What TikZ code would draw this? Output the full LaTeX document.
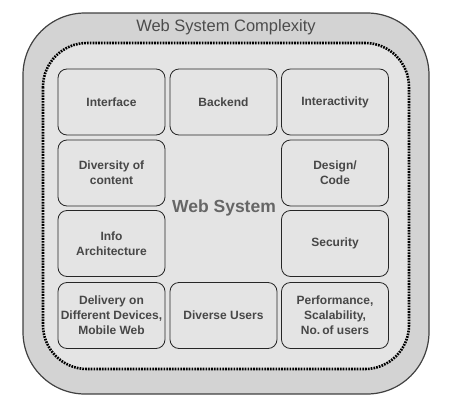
\documentclass[tikz,border=0pt]{standalone}
\usepackage{fontspec}
\setmainfont{Liberation Sans}
\usepackage{tikz}

\definecolor{outergray}{HTML}{D3D3D3}
\definecolor{innergray}{HTML}{E4E4E4}
\definecolor{textgray}{HTML}{474747}

\tikzset{
  part/.style={draw=black!85, line width=0.8pt, rounded corners=9pt,
    minimum width=107pt, minimum height=66pt, inner sep=1pt,
    align=center, text=textgray, font=\fontsize{12}{15}\selectfont\bfseries},
}

\begin{document}
\begin{tikzpicture}[x=1pt, y=-1pt]
  \useasboundingbox (0,0) rectangle (458,407);
  \draw[draw=black!75, line width=1.2pt, fill=outergray, rounded corners=62pt] (23,13) rectangle (429,394);
  \node[text=black!70, font=\fontsize{16.5}{19}\selectfont] (title) at (226,27) {Web System Complexity};
  \draw[black, line width=2.6pt, dash pattern=on 1.7pt off 1.1pt, fill=innergray, rounded corners=44pt] (43,43) rectangle (409,369);
  \node[text=black!60, font=\fontsize{17.5}{20}\selectfont\bfseries] (core) at (224,208) {Web System};
  % first row
  \node[part] (interface) at (111.5,102) {Interface};
  \node[part] (backend) at (223.5,102) {Backend};
  \node[part] (interact) at (335,102) {Interactivity};
  % sides
  \node[part] (diversity) at (111.5,173) {Diversity of\\content};
  \node[part] (design) at (335,173) {Design/\\Code};
  \node[part] (info) at (111.5,243.5) {Info\\Architecture};
  \node[part] (security) at (335,243.5) {Security};
  % last row
  \node[part] (delivery) at (111.5,315.5) {Delivery on\\Different Devices,\\Mobile Web};
  \node[part] (users) at (223.5,315.5) {Diverse Users};
  \node[part] (perform) at (335,315.5) {Performance,\\Scalability,\\No.\,of users};
\end{tikzpicture}
\end{document}
